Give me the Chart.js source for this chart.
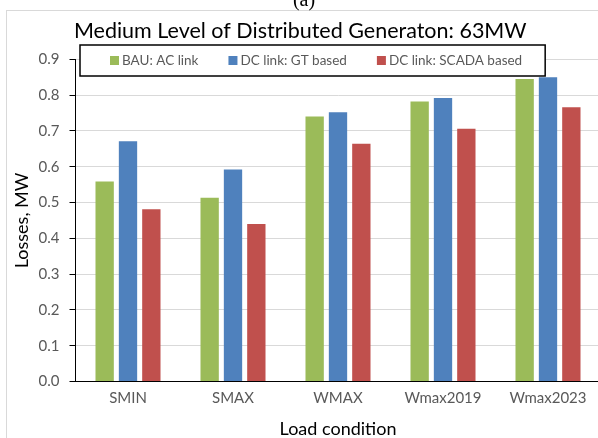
<!DOCTYPE html>
<html>
<head>
<meta charset="utf-8">
<script src="https://cdn.jsdelivr.net/npm/chart.js@4.4.0/dist/chart.umd.min.js"></script>
<style>
    body { margin: 0; overflow: hidden; background: #fff; }
    #wrap { position: absolute; left: 0; top: 0; width: 610px; height: 438px; }
</style>
</head>
<body>
<div id="wrap"><canvas id="mainChart" width="610" height="438"></canvas></div>
<script>
const categories = ["SMIN", "SMAX", "WMAX", "Wmax2019", "Wmax2023"];
const bauAc = [0.559, 0.513, 0.740, 0.782, 0.845];
const dcGt = [0.671, 0.592, 0.752, 0.792, 0.850];
const dcScada = [0.481, 0.440, 0.664, 0.706, 0.766];
const seriesNames = ["BAU: AC link", "DC link: GT based", "DC link: SCADA based"];
const yTicks = [0, 0.1, 0.2, 0.3, 0.4, 0.5, 0.6, 0.7, 0.8, 0.9];

const colors = ["#9BBB59", "#4F81BD", "#C0504D"];
const fontName = "Lato, 'Noto Sans', sans-serif";

// frame, "(a)" caption and boxed legend drawn by hand
const extras = {
    id: 'extras',
    beforeDraw(chart) {
        const ctx = chart.ctx;
        ctx.save();
        ctx.strokeStyle = '#d9d9d9';
        ctx.lineWidth = 1;
        ctx.strokeRect(6.5, 10.5, 1000, 1000);
        ctx.fillStyle = '#000';
        ctx.font = "20px 'Liberation Serif', serif";
        ctx.textAlign = 'center';
        ctx.textBaseline = 'alphabetic';
        ctx.fillText("(a)", 304, 6);
        ctx.restore();
    },
    afterDraw(chart) {
        const ctx = chart.ctx;
        ctx.save();
        ctx.font = "13.5px " + fontName;
        let x = 110;
        const items = [];
        chart.data.datasets.forEach(ds => {
            const w = ctx.measureText(ds.label).width;
            items.push({x: x, label: ds.label, color: ds.backgroundColor});
            x += 9 + 3 + w + 30;
        });
        const right = x - 30 + 23;
        ctx.fillStyle = '#fff';
        ctx.fillRect(80, 45, right - 80, 31);
        ctx.strokeStyle = '#000';
        ctx.lineWidth = 1.5;
        ctx.strokeRect(80, 45, right - 80, 31);
        ctx.textBaseline = 'middle';
        ctx.textAlign = 'left';
        items.forEach(it => {
            ctx.fillStyle = it.color;
            ctx.fillRect(it.x, 56, 9, 9);
            ctx.fillStyle = '#595959';
            ctx.fillText(it.label, it.x + 12, 61);
        });
        ctx.restore();
    }
};

new Chart(document.getElementById("mainChart"), {
    type: 'bar',
    data: {
        labels: categories,
        datasets: [
            {label: seriesNames[0], data: bauAc, backgroundColor: colors[0]},
            {label: seriesNames[1], data: dcGt, backgroundColor: colors[1]},
            {label: seriesNames[2], data: dcScada, backgroundColor: colors[2]}
        ]
    },
    options: {
        responsive: false,
        animation: false,
        layout: {padding: {left: 0, right: 9.5, top: 0, bottom: 0}},
        datasets: {bar: {categoryPercentage: 0.667, barPercentage: 0.785}},
        plugins: {
            legend: {display: false},
            tooltip: {enabled: false},
            title: {
                display: true,
                text: "Medium Level of Distributed Generaton: 63MW",
                color: '#000',
                font: {family: fontName, size: 21.5, weight: 'normal'},
                padding: {top: 18, bottom: 15.5}
            }
        },
        scales: {
            x: {
                grid: {display: false, drawTicks: false},
                border: {display: true, color: '#000', width: 1},
                ticks: {color: '#595959', font: {family: fontName, size: 15}, padding: 8},
                title: {display: true, text: "Load condition", color: '#000',
                        font: {family: fontName, size: 18, lineHeight: 1.0}, padding: {top: 4.5, bottom: 0}}
            },
            y: {
                min: 0,
                max: 0.9,
                afterBuildTicks(scale) {
                    scale.ticks = yTicks.map(v => ({value: v}));
                },
                afterFit(scale) { scale.width = 75.5; },
                grid: {color: '#d9d9d9', lineWidth: 1, tickLength: 6, tickColor: '#000'},
                border: {display: true, color: '#000', width: 1},
                ticks: {color: '#595959', font: {family: fontName, size: 15}, padding: 10,
                        callback: v => v.toFixed(1)},
                title: {display: true, text: "Losses, MW", color: '#000',
                        font: {family: fontName, size: 18}, padding: {top: 11, bottom: 0}}
            }
        }
    },
    plugins: [extras]
});
</script>
</body>
</html>
